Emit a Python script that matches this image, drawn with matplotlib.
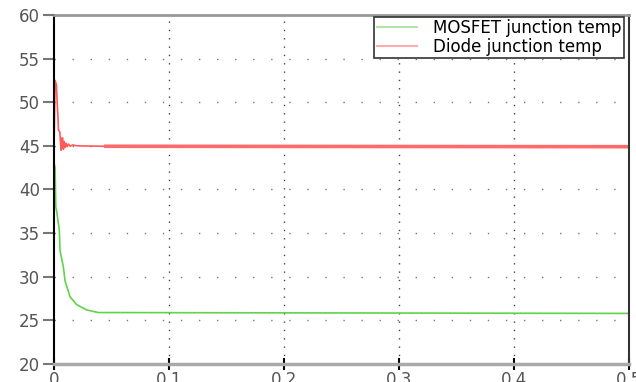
import matplotlib.pyplot as plt
import numpy as np

### Data
t_mosfet = [0.0, 0.0009, 0.0015, 0.0023, 0.0046, 0.0052, 0.0081, 0.0096, 0.0139, 0.0197, 0.0284, 0.0385, 0.5]
temp_mosfet = [43.0, 42.5, 38.0, 37.5, 35.3, 33.0, 31.1, 29.5, 27.7, 26.8, 26.2, 25.9, 25.8]

t_diode = [0.0, 0.0009, 0.002, 0.0029, 0.0035, 0.0038, 0.005, 0.0061, 0.0068, 0.0075, 0.0081,
           0.0087, 0.0095, 0.0104, 0.0113, 0.0125, 0.014, 0.016, 0.02, 0.045, 0.5]
temp_diode = [45.0, 52.5, 52.0, 49.5, 48.0, 46.8, 46.6, 44.5, 45.9, 45.9, 44.6,
              45.5, 44.8, 45.3, 44.9, 45.2, 44.95, 45.1, 45.0, 44.95, 44.9]

labels = ["MOSFET junction temp", "Diode junction temp"]
x_ticks = [0, 0.1, 0.2, 0.3, 0.4, 0.5]
y_ticks = [20, 25, 30, 35, 40, 45, 50, 55, 60]

### Plot
fig = plt.figure(figsize=(6.36, 3.82), dpi=100)
ax = fig.add_axes([0.085, 0.047, 0.904, 0.914])

ax.plot(t_mosfet, temp_mosfet, color="#5fd34a", lw=1.2, label=labels[0])
ax.plot(t_diode, temp_diode, color="#ff5a5a", lw=1.2, label=labels[1])
# the steady part of the diode trace looks like a thicker band (small ripple)
td = np.array(t_diode)
ax.plot(td[td >= 0.045], np.array(temp_diode)[td >= 0.045], color="#ff6a6a", lw=2.6)

ax.set_xlim(0, 0.5)
ax.set_ylim(20, 60)
ax.set_xticks(x_ticks)
ax.set_xticklabels(["0", "0.1", "0.2", "0.3", "0.4", "0.5"])
ax.set_yticks(y_ticks)

# dotted grid, sparse on horizontals, denser on verticals
for y in y_ticks[1:-1]:
    ax.axhline(y, color="#777777", lw=1, ls=(0, (1, 12)), zorder=0)
for x in x_ticks[1:-1]:
    ax.axvline(x, color="#444444", lw=1, ls=(0, (1, 5)), zorder=0)

ax.spines["left"].set_color("black")
ax.spines["left"].set_linewidth(1.5)
ax.spines["right"].set_color("#333333")
ax.spines["right"].set_linewidth(1.5)
ax.spines["top"].set_color("#999999")
ax.spines["top"].set_linewidth(2)
ax.spines["bottom"].set_color("#aaaaaa")
ax.spines["bottom"].set_linewidth(2.5)

ax.tick_params(axis="y", direction="out", length=8, width=1.5, color="#777777",
               labelsize=12, labelcolor="#555555", pad=2)
ax.tick_params(axis="x", direction="inout", length=8, width=1.5, color="black",
               labelsize=12, labelcolor="#555555", pad=1)

leg = ax.legend(loc="upper right", bbox_to_anchor=(0.992, 0.995), fontsize=12,
                fancybox=False, framealpha=1, edgecolor="#333333",
                handlelength=2.4, borderpad=0.15, labelspacing=0.05,
                handletextpad=1.0, borderaxespad=0)
leg.get_frame().set_linewidth(1.2)
for h in leg.get_lines():
    h.set_alpha(0.5)
    h.set_linewidth(1.5)

fig.savefig("out.png", dpi=100)
